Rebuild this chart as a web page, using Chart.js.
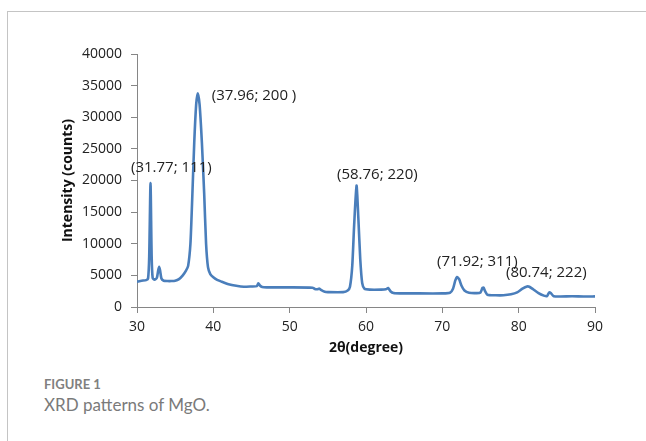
<!DOCTYPE html>
<html>
<head>
<meta charset="utf-8">
<script src="https://cdn.jsdelivr.net/npm/chart.js@4.4.0/dist/chart.umd.min.js"></script>
<style>
  body { margin: 0; background: #fff; width: 646px; height: 441px; overflow: hidden; position: relative; }
  .frame_top { position: absolute; left: 7px; top: 11px; width: 639px; height: 1px; background: #c4c4c4; }
  .frame_left { position: absolute; left: 7px; top: 11px; width: 1px; height: 430px; background: #c4c4c4; }
  #box { position: absolute; left: 20px; top: 30px; width: 600px; height: 330px; }
  .fig { position: absolute; left: 44px; top: 376px; font-family: Lato, sans-serif; font-weight: bold; font-size: 13px; color: #808080; }
  .cap { position: absolute; left: 44px; top: 394px; font-family: Lato, sans-serif; font-size: 17px; color: #7a7a7a; }
</style>
</head>
<body>
<div class="frame_top"></div>
<div class="frame_left"></div>
<div id="box"><canvas id="grafico_xrd"></canvas></div>
<div class="fig">FIGURE 1</div>
<div class="cap">XRD patterns of MgO.</div>
<script>
const grafico = document.querySelector("#grafico_xrd")

// 2theta (degree)
const theta = [30, 30.6, 31.2, 31.45, 31.6, 31.77, 31.92, 32.05, 32.3, 32.6, 32.78, 32.9, 33.02, 33.2, 33.5,
  34, 34.5, 35, 35.5, 36, 36.4, 36.7, 37, 37.2, 37.5, 37.75, 37.96, 38.2, 38.5, 38.8, 39.05, 39.3, 39.6,
  40, 40.5, 41, 42, 43, 44, 45, 45.7, 45.9, 46.1, 46.4, 47, 50, 53, 53.3, 53.6, 53.9, 54.1, 54.6, 55,
  57, 57.6, 57.9, 58.2, 58.45, 58.76, 59, 59.25, 59.5, 59.8, 60.5, 62, 62.6, 62.9, 63.2, 63.6, 64.5, 66,
  70, 71, 71.4, 71.7, 71.92, 72.2, 72.5, 72.9, 73.5, 74.5, 75, 75.25, 75.4, 75.6, 75.9, 77, 78, 79,
  79.8, 80.5, 81.1, 81.4, 81.9, 82.6, 83.3, 83.7, 84, 84.2, 84.6, 85.5, 87, 88.5, 90]
// Intensity (counts)
const intensity = [4000, 4150, 4250, 4500, 8000, 19600, 8000, 4600, 4300, 4600, 5800, 6350, 5800, 4500, 4150,
  4100, 4100, 4150, 4400, 5000, 5700, 6500, 10000, 16000, 26000, 32000, 33800, 32000, 26000, 18000, 10000, 6300, 5200,
  4700, 4300, 4050, 3600, 3350, 3200, 3250, 3300, 3750, 3400, 3150, 3100, 3100, 3050, 2850, 2800, 2900, 2700, 2400, 2350,
  2350, 2600, 3200, 6500, 13000, 19200, 14000, 7500, 3800, 2900, 2750, 2750, 2800, 3000, 2500, 2200, 2150, 2150,
  2150, 2250, 2900, 4200, 4750, 4400, 3400, 2600, 2250, 2200, 2300, 3000, 3050, 2500, 1950, 1850, 1850, 2000,
  2300, 2900, 3250, 3200, 2800, 2200, 1800, 1700, 2300, 2200, 1700, 1650, 1700, 1650, 1680]

const y_ticks = [0, 5000, 10000, 15000, 20000, 25000, 30000, 35000, 40000]
const x_ticks = [30, 40, 50, 60, 70, 80, 90]

// peak labels and where their left edge sits (data units)
const rotulos = ['(31.77; 111)', '(37.96; 200 )', '(58.76; 220)', '(71.92; 311)', '(80.74; 222)']
const rotulo_x = [29.21, 39.79, 56.2, 69.3, 78.34]
const rotulo_y = [22020, 33360, 20870, 7160, 5420]

const pontos = theta.map((t, i) => ({x: t, y: intensity[i]}))

const fonte = "'Open Sans', sans-serif"

const rotulosPlugin = {
    id: 'rotulos',
    afterDatasetsDraw(chart) {
        const ctx = chart.ctx
        const sx = chart.scales.x
        const sy = chart.scales.y
        ctx.save()
        ctx.font = '15px ' + fonte
        ctx.fillStyle = '#222'
        ctx.textAlign = 'left'
        ctx.textBaseline = 'middle'
        for (var i = 0; i < rotulos.length; i++) {
            ctx.fillText(rotulos[i], sx.getPixelForValue(rotulo_x[i]), sy.getPixelForValue(rotulo_y[i]))
        }
        ctx.restore()
    }
}

const config = {
    type: 'line',
    data: {
        datasets: [{
            label: 'MgO',
            data: pontos,
            borderColor: 'rgb(74, 126, 187)',
            borderWidth: 2.6,
            pointRadius: 0,
            tension: 0.2,
            fill: false,
        }]
    },
    options: {
        responsive: true,
        maintainAspectRatio: false,
        animation: false,
        layout: { padding: { top: 24, right: 25, left: 0, bottom: 0 } },
        plugins: { legend: { display: false }, tooltip: { enabled: false } },
        scales: {
            x: {
                type: 'linear',
                min: 30, max: 90,
                afterBuildTicks: (s) => { s.ticks = x_ticks.map(v => ({value: v})) },
                afterFit: (s) => { s.height = 53 },
                grid: { drawOnChartArea: false, drawTicks: true, tickLength: 6, color: '#868686' },
                border: { color: '#868686' },
                ticks: { padding: 6, color: '#222', font: { family: fonte, size: 14 }, callback: (v) => String(v) },
                title: { display: true, text: '2θ(degree)', color: '#111', padding: { top: 0, bottom: 3.6 },
                         font: { family: fonte, size: 14, weight: 'bold' } }
            },
            y: {
                min: 0, max: 40000,
                afterBuildTicks: (s) => { s.ticks = y_ticks.map(v => ({value: v})) },
                afterFit: (s) => { s.width = 117 },
                grid: { drawOnChartArea: false, drawTicks: true, tickLength: 6, color: '#868686' },
                border: { color: '#868686' },
                ticks: { padding: 9, color: '#222', font: { family: fonte, size: 14 }, callback: (v) => String(v) },
                title: { display: true, text: 'Intensity (counts)', color: '#111', padding: { top: 39.6, bottom: 0 },
                         font: { family: fonte, size: 14, weight: 'bold' } }
            }
        }
    },
    plugins: [rotulosPlugin]
}

const graficoXrd = new Chart(grafico, config)
</script>
</body>
</html>
